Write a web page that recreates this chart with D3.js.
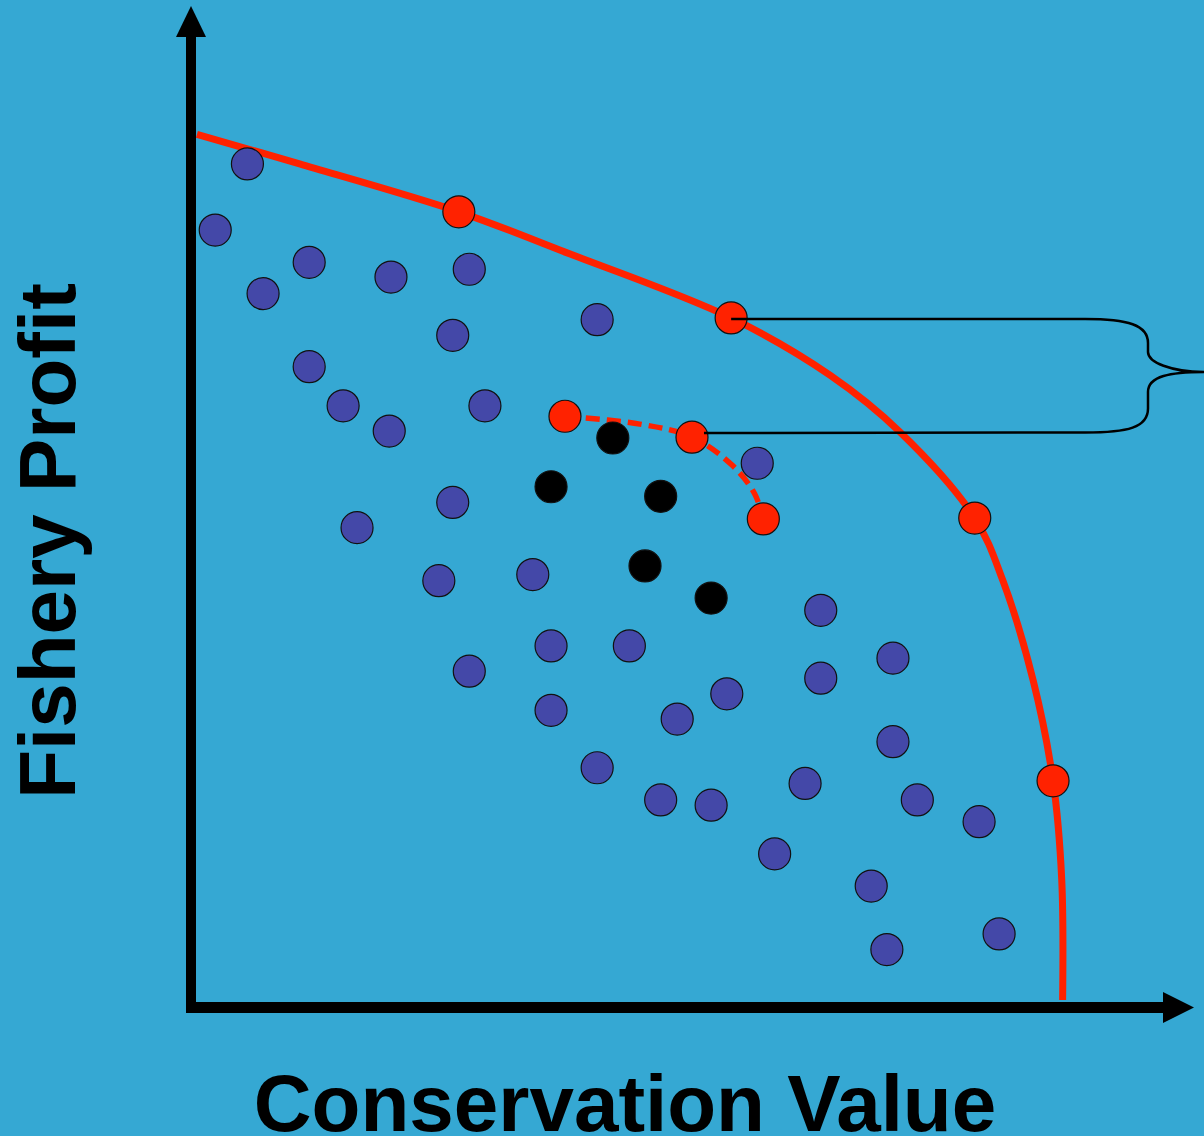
<!DOCTYPE html>
<html>
<head>
<meta charset="utf-8">
<script src="https://cdn.jsdelivr.net/npm/d3@7"></script>
<style>
  html, body { margin: 0; padding: 0; background: #35a8d3; }
  svg { display: block; }
</style>
</head>
<body>
<script>
// candidate solutions (conservation value, fishery profit)
const bluePoints = [
  [6.6, 96.9], [2.9, 89.3], [8.4, 82.0], [13.7, 85.6], [23.1, 83.9], [32.1, 84.8],
  [30.2, 77.2], [46.8, 79.0], [13.7, 73.6], [17.6, 69.1], [22.9, 66.2], [33.9, 69.1],
  [65.2, 62.5], [30.2, 58.0], [19.2, 55.1], [28.6, 49.0], [39.4, 49.7], [41.5, 41.5],
  [50.5, 41.5], [32.1, 38.6], [41.5, 34.1], [61.7, 36.0], [56.0, 33.1], [72.5, 45.6],
  [72.5, 37.8], [80.8, 40.1], [80.8, 30.5], [46.8, 27.5], [54.1, 23.8], [59.9, 23.2],
  [70.7, 25.7], [83.6, 23.8], [90.7, 21.3], [67.2, 17.6], [78.3, 13.9], [80.1, 6.6],
  [93.0, 8.4]
];
const blackPoints = [[48.6, 65.4], [41.5, 59.8], [54.1, 58.7], [52.3, 50.7], [59.9, 47.0]];
const frontierPoints = [[30.9, 91.4], [62.2, 79.2], [90.2, 56.2], [99.2, 26.0]];
const innerPoints = [[43.1, 67.9], [57.7, 65.5], [65.9, 56.1]];

// frontier curves
const frontierCurve = [
  [0.8, 100.3], [12.6, 96.9], [30.9, 91.4], [42.5, 87.0], [62.2, 79.2], [73.6, 72.6],
  [81.6, 66.1], [90.2, 56.2], [93.4, 49.1], [96.9, 37.6], [99.2, 26.0], [100.2, 14.6],
  [100.3, 0.8]
];
const innerCurve = [[43.1, 67.9], [51.7, 67.0], [57.7, 65.5], [62.4, 62.2], [64.9, 59.0], [65.9, 56.1]];

const width = 1204, height = 1136;
const svg = d3.select('body').append('svg')
  .attr('width', width)
  .attr('height', height);

svg.append('rect')
  .attr('width', width).attr('height', height)
  .attr('fill', '#35a8d3');

const x = d3.scaleLinear().domain([0, 100]).range([190, 1060]);
const y = d3.scaleLinear().domain([0, 100]).range([1007, 137]);

const line = d3.line()
  .x(d => x(d[0]))
  .y(d => y(d[1]))
  .curve(d3.curveCatmullRom);

/* axes with arrow heads */
const ox = x(0) + 1, oy = y(0) + 0.5;
svg.append('line')
  .attr('x1', ox).attr('y1', oy + 5)
  .attr('x2', ox).attr('y2', 30)
  .attr('stroke', '#000').attr('stroke-width', 10);
svg.append('path')
  .attr('d', `M${ox},6 L${ox - 15},37 L${ox + 15},37 Z`)
  .attr('fill', '#000');
svg.append('line')
  .attr('x1', ox - 5).attr('y1', oy)
  .attr('x2', 1170).attr('y2', oy)
  .attr('stroke', '#000').attr('stroke-width', 11);
svg.append('path')
  .attr('d', `M1194,${oy} L1163,${oy - 15.5} L1163,${oy + 15.5} Z`)
  .attr('fill', '#000');

/* frontier lines */
svg.append('path')
  .datum(frontierCurve)
  .attr('d', line)
  .attr('fill', 'none')
  .attr('stroke', '#ff2200')
  .attr('stroke-width', 7);

svg.append('path')
  .datum(innerCurve)
  .attr('d', line)
  .attr('fill', 'none')
  .attr('stroke', '#ff2200')
  .attr('stroke-width', 5.5)
  .attr('stroke-dasharray', '14,7');

const dot = (data, fill) => svg.append('g')
  .selectAll('circle')
  .data(data)
  .enter()
  .append('circle')
    .attr('cx', d => x(d[0]))
    .attr('cy', d => y(d[1]))
    .attr('r', 16)
    .attr('fill', fill)
    .attr('stroke', '#111')
    .attr('stroke-width', 1.2);

dot(bluePoints, '#4448a8');
dot(blackPoints, '#000');
dot(frontierPoints, '#ff2200');
dot(innerPoints, '#ff2200');

/* brace between the two frontiers */
const topY = y(frontierPoints[1][1]) + 1;
const botY = 432.5;
const bx = 1148, tipX = 1206, midY = 372;
const brace = d3.path();
brace.moveTo(x(frontierPoints[1][0]), topY);
brace.lineTo(1085, topY);
brace.bezierCurveTo(1128, topY, bx, topY + 6, bx, topY + 24);
brace.lineTo(bx, topY + 33);
brace.bezierCurveTo(bx, midY - 10, 1170, midY, tipX, midY);
brace.moveTo(tipX, midY);
brace.bezierCurveTo(1170, midY, bx, midY + 4, bx, midY + 20);
brace.lineTo(bx, botY - 24);
brace.bezierCurveTo(bx, botY - 5, 1128, botY, 1085, botY);
brace.lineTo(x(innerPoints[1][0]) + 12, botY + 0.5);
svg.append('path')
  .attr('d', brace.toString())
  .attr('fill', 'none')
  .attr('stroke', '#000')
  .attr('stroke-width', 2.5);

/* axis titles */
svg.append('text')
  .attr('x', 625)
  .attr('y', 1131)
  .attr('text-anchor', 'middle')
  .attr('font-family', 'Liberation Sans, Arial, sans-serif')
  .attr('font-weight', 'bold')
  .attr('font-size', 80)
  .attr('fill', '#000')
  .text('Conservation Value');

svg.append('text')
  .attr('transform', 'translate(75,541) rotate(-90)')
  .attr('text-anchor', 'middle')
  .attr('font-family', 'Liberation Sans, Arial, sans-serif')
  .attr('font-weight', 'bold')
  .attr('font-size', 80)
  .attr('fill', '#000')
  .text('Fishery Profit');
</script>
</body>
</html>
